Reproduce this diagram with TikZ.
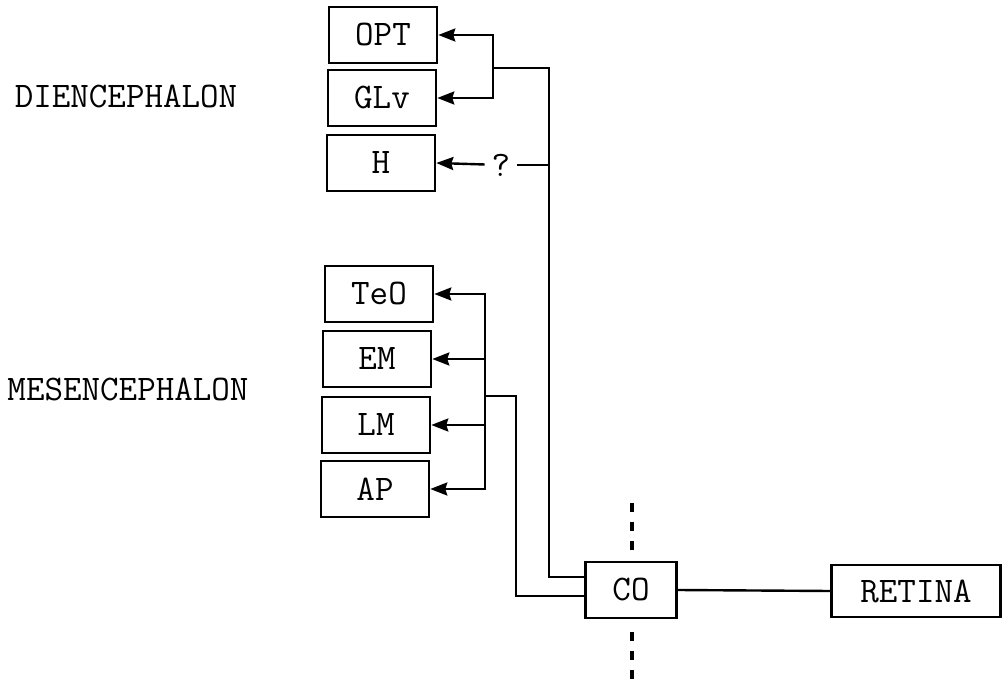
\documentclass[tikz,border=0pt]{standalone}
\usepackage{fontspec}
\usepackage{tikz}
\usetikzlibrary{arrows.meta, positioning}

\begin{document}
\begin{tikzpicture}[
		x=0.5pt, y=-0.5pt,
		every node/.style={
			font=\ttfamily\fontsize{18}{21}\selectfont
		},
		box/.style={
			draw,
			line width=1.3pt,
			align=center,
			minimum width=54pt,
			minimum height=28pt,
			inner sep=0pt
		},
		arrow/.style={
			-{Stealth[length=8.5pt, width=6.5pt, inset=1pt]},
			line width=1.2pt
		},
		line/.style={
			line width=1.2pt
		},
		cutline/.style={
			line width=1.7pt,
			dash pattern=on 4.5pt off 5pt
		}
		]
		
		\useasboundingbox (0,0) rectangle (1002,679);
		
		% Regioes
		\node (dien) at (126,96) {DIENCEPHALON};
		\node (mesen) at (128,389) {MESENCEPHALON};
		
		% Diencephalon
		\node[box] (opt) at (383,35) {OPT};
		\node[box] (glv) at (382,98) {GLv};
		\node[box] (h) at (381,163) {H};
		
		% Mesencephalon
		\node[box] (teo) at (379,294) {TeO};
		\node[box] (em) at (377,359) {EM};
		\node[box] (lm) at (376,425) {LM};
		\node[box] (ap) at (375,489) {AP};
		
		% Chiasma e retina
		\node[box, minimum width=45.5pt] (co) at (631,590) {CO};
		\node[box, minimum width=84.5pt, minimum height=26pt] (retina) at (916,591) {RETINA};
		
		% Pontos de ramificacao
		\coordinate (dsplit) at (493,68);
		\coordinate (dbend) at (549,68);
		\coordinate (hjoin) at (549,165);
		\node (qmark) at (501,165) {?};
		\coordinate (msplit) at (485,396);
		\coordinate (mbend) at (516,396);
		
		% Ligacoes do diencephalon
		\draw[arrow] (dsplit) |- (opt.east);
		\draw[arrow] (dsplit) |- (glv.east);
		\draw[line] (dsplit) -- (dbend) |- ([yshift=6.5pt]co.west);
		\draw[line] (hjoin) -- (qmark);
		\draw[arrow] (qmark) -- (h.east);
		
		% Ligacoes do mesencephalon
		\draw[arrow] (msplit) |- (teo.east);
		\draw[arrow] (msplit) |- (em.east);
		\draw[arrow] (msplit) |- (lm.east);
		\draw[arrow] (msplit) |- (ap.east);
		\draw[line] (msplit) -- (mbend) |- ([yshift=-3pt]co.west);
		
		% Retina
		\draw[line] (co.east) -- (retina.west);
		
		% Linha media
		\coordinate (cuta) at (632,503);
		\coordinate (cutb) at (632,550);
		\coordinate (cutc) at (632,632);
		\coordinate (cutd) at (632,679);
		\draw[cutline] (cuta) -- (cutb);
		\draw[cutline] (cutc) -- (cutd);
		
	\end{tikzpicture}
\end{document}
